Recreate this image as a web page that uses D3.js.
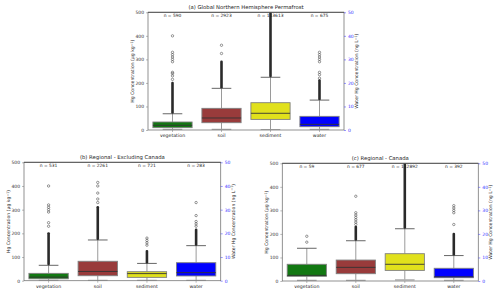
<!DOCTYPE html>
<html><head><meta charset="utf-8">
<script src="https://cdn.jsdelivr.net/npm/d3@7"></script>
<style>body{margin:0;background:#fff}svg{display:block}text{font-family:"DejaVu Sans",sans-serif}</style>
</head><body><svg id="c" width="500" height="294"></svg>
<script>
const categories = ["vegetation","soil","sediment","water"];
const colors = ["#127812","#993b3b","#e1e11c","#0000ff"];
const leftTicks = [0,100,200,300,400,500];
const rightTicks = [0,10,20,30,40,50];

// panel (a)
const titleA = "(a) Global Northern Hemisphere Permafrost";
const nA = ["n = 590","n = 2923","n = 113613","n = 675"];
const statsA = [[3,10,20,34,69],[3,31,51,92,177],[2,45,71,116,224],[0.3,1.4,2.4,5.8,12.7]];
const denseA = [[69,200],[177,290],[224,500],[12.7,21]];
const sparseA = [[215,230,240,245,290,300,310,320,330,400],[325,360],[],[22,23.5,24.5,29,30,31,32,33]];

// panel (b)
const titleB = "(b) Regional - Excluding Canada";
const nB = ["n = 531","n = 2261","n = 721","n = 283"];
const statsB = [[1,8,15,31,65],[1,21,39,82,172],[1,14,30,38,73],[0.1,2.0,3.4,7.6,14.8]];
const denseB = [[65,200],[172,310],[73,125],[14.8,21.5]];
const sparseB = [[230,245,290,300,310,320,400],[330,345,370,400,415],[150,160,170,180],[23,24,25,27.5,33]];

// panel (c)
const titleC = "(c) Regional - Canada";
const nC = ["n = 59","n = 677","n = 112892","n = 392"];
const statsC = [[3,20,24,71,139],[3,31,58,89,171],[5,45,71,116,222],[0.3,1.4,1.8,5.4,10.8]];
const denseC = [null,[171,230],[222,500],[10.8,20]];
const sparseC = [[165,190],[240,250,260,270,280,290,360],[],[24,29,30,31,32]];

const svg = d3.select("#c");

function panel(box, title, ns, stats, dense, sparse){
  const [x0,x1,y0,y1] = box; // y0 top, y1 bottom
  const g = svg.append("g");
  const x = d3.scaleBand().domain(categories).range([x0,x1]).paddingInner(0).paddingOuter(0);
  const yL = d3.scaleLinear().domain([0,500]).range([y1,y0]);
  const yR = d3.scaleLinear().domain([0,50]).range([y1,y0]);
  const bw = x.bandwidth()*0.8;
  const clipId = "clip"+Math.round(x0);
  svg.append("clipPath").attr("id",clipId).append("rect").attr("x",x0).attr("y",y0).attr("width",x1-x0).attr("height",y1-y0);
  const plot = g.append("g").attr("clip-path",`url(#${clipId})`);

  categories.forEach((c,i)=>{
    const y = i===3 ? yR : yL;
    const [lo,q1,med,q3,hi] = stats[i];
    const cx = x(c)+x.bandwidth()/2;
    const capW = bw*0.5;
    plot.append("line").attr("x1",cx).attr("x2",cx).attr("y1",y(q3)).attr("y2",y(hi)).attr("stroke","#9a9a9a").attr("stroke-width",1);
    plot.append("line").attr("x1",cx).attr("x2",cx).attr("y1",y(q1)).attr("y2",y(lo)).attr("stroke","#9a9a9a").attr("stroke-width",1);
    plot.append("line").attr("x1",cx-capW/2).attr("x2",cx+capW/2).attr("y1",y(hi)).attr("y2",y(hi)).attr("stroke","#555").attr("stroke-width",0.9);
    plot.append("line").attr("x1",cx-capW/2).attr("x2",cx+capW/2).attr("y1",y(lo)).attr("y2",y(lo)).attr("stroke","#aaa").attr("stroke-width",1.2);
    plot.append("rect").attr("x",cx-bw/2).attr("width",bw).attr("y",y(q3)).attr("height",y(q1)-y(q3))
      .attr("fill",colors[i]).attr("stroke","#808080").attr("stroke-width",0.9);
    plot.append("line").attr("x1",cx-bw/2).attr("x2",cx+bw/2).attr("y1",y(med)).attr("y2",y(med)).attr("stroke","#333").attr("stroke-width",0.9);
    if(dense[i]){
      const [a,b] = dense[i];
      plot.append("rect").attr("x",cx-1.3).attr("width",2.6).attr("y",y(b)-1.2).attr("height",y(a)-y(b)+1.2)
        .attr("rx",1.2).attr("fill","#2a2a2a");
    }
    sparse[i].forEach(v=>{
      plot.append("circle").attr("cx",cx).attr("cy",y(v)).attr("r",1.2).attr("fill","none").attr("stroke","#333").attr("stroke-width",0.5);
    });
    g.append("text").attr("x",cx).attr("y",y0+5).attr("text-anchor","middle").attr("font-size",4.4).attr("fill","#222").text(ns[i]);
  });

  g.append("rect").attr("x",x0).attr("y",y0).attr("width",x1-x0).attr("height",y1-y0).attr("fill","none").attr("stroke","#777").attr("stroke-width",0.8);
  g.append("line").attr("x1",x0).attr("x2",x1).attr("y1",y0).attr("y2",y0).attr("stroke","#444").attr("stroke-width",0.8);

  const la = g.append("g").attr("transform",`translate(${x0},0)`).call(d3.axisLeft(yL).tickValues(leftTicks).tickSize(2).tickPadding(2));
  la.select(".domain").remove();
  la.selectAll("text").attr("font-size",4.5).attr("fill","#333").attr("font-family","DejaVu Sans");
  la.selectAll("line").attr("stroke","#777").attr("stroke-width",0.5);
  const ra = g.append("g").attr("transform",`translate(${x1},0)`).call(d3.axisRight(yR).tickValues(rightTicks).tickSize(2).tickPadding(2));
  ra.select(".domain").remove();
  ra.selectAll("text").attr("font-size",4.5).attr("fill","#3333ff").attr("font-family","DejaVu Sans");
  ra.selectAll("line").attr("stroke","#3333ff").attr("stroke-width",0.5);
  const ba = g.append("g").attr("transform",`translate(0,${y1})`).call(d3.axisBottom(x).tickSize(2).tickPadding(1.5));
  ba.select(".domain").remove();
  ba.selectAll("text").attr("font-size",4.7).attr("fill","#222").attr("font-family","DejaVu Sans");
  ba.selectAll("line").attr("stroke","#777").attr("stroke-width",0.5);

  g.append("text").attr("x",(x0+x1)/2).attr("y",y0-3).attr("text-anchor","middle").attr("font-size",5.3).attr("fill","#222").text(title);
  const ym = (y0+y1)/2;
  const ll = g.append("text").attr("transform",`translate(${x0-14},${ym}) rotate(-90)`).attr("text-anchor","middle").attr("font-size",4.6).attr("fill","#222");
  ll.append("tspan").text("Hg Concentration (μg kg");
  ll.append("tspan").attr("dy",-1.5).attr("font-size",3.3).text("−1");
  ll.append("tspan").attr("dy",1.5).text(")");
  const rl = g.append("text").attr("transform",`translate(${x1+14},${ym}) rotate(-90)`).attr("text-anchor","middle").attr("font-size",4.6).attr("fill","#222");
  rl.append("tspan").text("Water Hg Concentration (ng L");
  rl.append("tspan").attr("dy",-1.5).attr("font-size",3.3).text("−1");
  rl.append("tspan").attr("dy",1.5).text(")");
}

panel([148,344,12.3,130], titleA, nA, statsA, denseA, sparseA);
panel([24,220.7,162.3,280.7], titleB, nB, statsB, denseB, sparseB);
panel([282.3,478.3,163.3,281], titleC, nC, statsC, denseC, sparseC);
</script></body></html>
